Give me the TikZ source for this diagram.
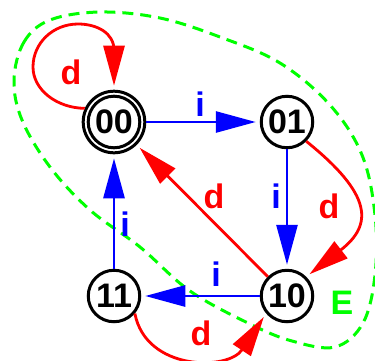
\documentclass[tikz,border=0pt]{standalone}
\usepackage{fontspec}
\setmainfont{Liberation Sans}
\usetikzlibrary{arrows.meta}
\definecolor{cred}{RGB}{255,0,0}
\definecolor{cblue}{RGB}{0,0,255}
\definecolor{cgreen}{RGB}{0,255,0}
\begin{document}
\begin{tikzpicture}[x=1pt,y=-1pt,
  state/.style={circle, draw=black, line width=3pt, minimum size=51.5pt, inner sep=0pt, font=\fontsize{34}{34}\selectfont\bfseries},
  lab/.style={inner sep=0pt, font=\fontsize{34}{34}\selectfont\bfseries},
  ar/.style={line width=2.8pt, -{Triangle[length=40pt,width=21pt]}, shorten >=4pt},
  region/.style={cgreen, line width=3pt, dash pattern=on 11pt off 7pt},
]
\useasboundingbox (0,0) rectangle (375,360);
\draw[region] plot[smooth cycle, tension=0.6] coordinates {
  (14,80) (24,42) (50,20) (100,12) (160,18) (220,37) (280,63) (330,105)
  (362,155) (375,215) (375,275) (363,323) (335,347) (292,341) (250,324)
  (190,291) (140,247) (90,210) (50,167) (22,120)};
\node[state, minimum size=61.6pt] (n00) at (114,122) {00};
\draw[line width=3pt] (n00.center) circle[radius=25.8pt];
\node[state] (n01) at (287,122) {01};
\node[state] (n10) at (287,296) {10};
\node[state] (n11) at (114,296) {11};
\draw[ar, cblue] (n00) -- (n01);
\draw[ar, cblue] (n01) -- (n10);
\draw[ar, cblue] (n10) -- (n11);
\draw[ar, cblue] (n11) -- (n00);
\draw[ar, cred] (n10) -- (n00);
\draw[ar, cred] (n01.-45) .. controls (373,195) and (373,225) .. (n10.45);
\draw[ar, cred] (n11.-40) .. controls (146,371) and (228,371) .. (n10.-140);
\draw[ar, cred] (n00.155) .. controls (57,108) and (33,90) .. (33,67)
  .. controls (33,43) and (53,24) .. (78,24)
  .. controls (97,24) and (114,33) .. (114,50) -- (n00.north);
\node[lab, cred] (ld0) at (71,72) {d};
\node[lab, cblue] (li1) at (200,104) {i};
\node[lab, cblue] (li2) at (276,196) {i};
\node[lab, cred] (ld2) at (329,206) {d};
\node[lab, cred] (ld3) at (214,196) {d};
\node[lab, cblue] (li4) at (125,224) {i};
\node[lab, cblue] (li3) at (216,274) {i};
\node[lab, cred] (ld4) at (201,333) {d};
\node[lab, cgreen] (lE) at (342,303) {E};
\end{tikzpicture}
\end{document}
